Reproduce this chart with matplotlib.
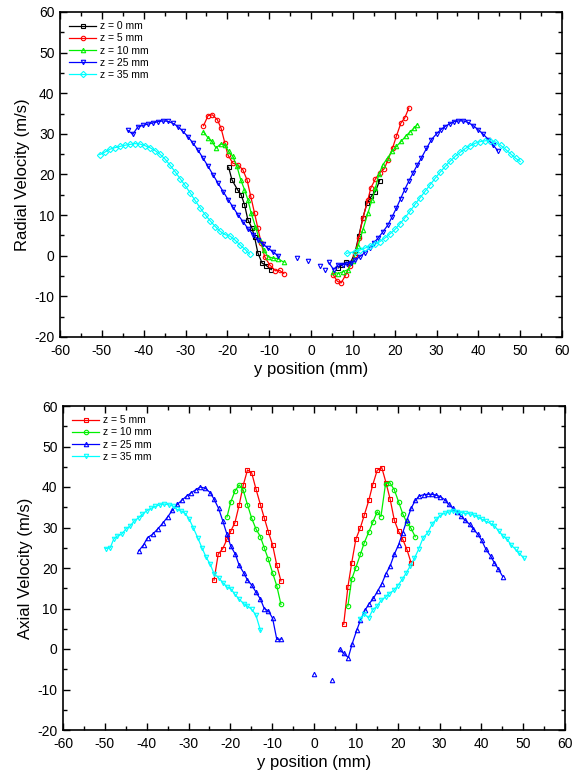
import numpy as np
import matplotlib
matplotlib.use("Agg")
import matplotlib.pyplot as plt
from matplotlib.ticker import MultipleLocator

plt.rcParams['font.family'] = ['Liberation Sans', 'DejaVu Sans']
plt.rcParams['axes.unicode_minus'] = False

# ---------------- Radial velocity (top) ----------------
r0_xL = [-19.7,-18.9,-17.6,-16.7,-15.9,-15.1,-14.1,-13.5,-12.7,-11.7,-10.7,-9.5]
r0_yL = [21.8,18.7,16.3,15.0,12.6,8.9,6.8,4.6,0.7,-1.8,-2.4,-3.4]
r0_xR = [6.5,7.5,8.4,9.4,10.5,11.4,12.4,13.4,14.4,15.4,16.4]
r0_yR = [-3.0,-2.2,-1.6,-1.8,0.7,4.8,9.3,13.0,14.6,15.8,18.5]

r5_xL = [-25.7,-24.6,-23.6,-22.4,-21.5,-20.6,-19.9,-18.7,-17.5,-16.3,-15.3,-14.4,-13.5,-12.7,-11.9,-11.1,-9.9,-8.5,-7.5,-6.5]
r5_yL = [32.0,34.5,34.7,33.5,31.4,27.8,24.9,22.8,22.4,21.2,18.7,14.6,10.5,6.8,3.1,-0.2,-2.2,-3.7,-3.6,-4.4]
r5_xR = [5.3,6.3,7.2,8.3,9.3,10.5,11.4,12.4,13.6,14.3,15.4,16.4,17.5,18.4,19.5,20.4,21.5,22.4,23.4]
r5_yR = [-4.7,-6.3,-6.7,-4.7,-2.6,0.2,4.3,9.3,13.8,16.7,18.9,20.4,21.4,23.6,26.5,29.4,32.7,33.9,36.4]

r10_xL = [-25.7,-24.6,-23.7,-22.7,-21.6,-20.6,-19.7,-18.7,-17.7,-16.8,-15.9,-15.1,-14.3,-13.3,-12.3,-11.3,-10.3,-9.1,-7.9,-6.5]
r10_yL = [30.5,29.0,28.2,26.5,27.5,27.3,25.7,24.5,22.0,18.7,16.3,13.8,10.5,7.2,3.9,1.5,-0.2,-0.6,-0.7,-1.6]
r10_xR = [5.3,6.5,7.7,8.9,10.0,11.2,12.4,13.6,14.6,15.4,16.2,17.2,18.3,19.4,20.4,21.6,22.6,23.6,24.6,25.4]
r10_yR = [-3.9,-4.4,-3.9,-3.4,-1.4,2.3,6.4,10.5,13.8,16.7,20.0,22.4,24.1,25.7,26.9,28.2,29.4,30.4,31.4,32.3]

r25_xL = [-43.8,-42.6,-41.4,-40.2,-39.0,-37.8,-36.6,-35.4,-34.2,-33.0,-31.8,-30.6,-29.4,-28.2,-27.0,-25.8,-24.6,-23.4,-22.2,-21.0,-19.8,-18.6,-17.4,-16.2,-15.0,-13.8,-12.6,-11.4,-10.2,-9.0,-7.8]
r25_yL = [30.9,29.9,31.7,32.1,32.4,32.7,33.0,33.2,33.1,32.6,31.8,30.6,29.3,27.7,26.0,24.0,22.0,19.9,17.8,15.8,13.8,11.9,10.0,8.3,6.6,5.2,3.9,2.8,1.8,0.9,-0.1]
r25_xC = [-3.3,-0.6,2.1,3.4]
r25_yC = [-0.6,-1.2,-2.6,-3.4]
r25_xR = [4.2,5.4,6.5,7.7,8.7,9.6,10.6,11.7,12.8,14.0,15.0,16.0,17.2,18.4,19.4,20.4,21.4,22.4,23.4,24.4,25.4,26.4,27.6,28.8,30.0,31.0,32.0,33.2,34.2,35.2,36.4,37.6,38.8,40.0,41.2,42.4,43.6,44.6]
r25_yR = [-1.6,-3.4,-2.2,-2.2,-2.0,-1.8,-1.0,-0.2,0.7,2.0,3.2,4.3,5.9,7.6,9.6,11.7,14.0,16.3,18.4,20.4,22.3,24.1,26.4,28.6,30.0,31.0,31.8,32.5,33.0,33.2,33.2,32.8,32.0,31.0,29.9,28.6,27.2,25.9]

r35_xL = [-50.5,-49.3,-48.1,-46.9,-45.7,-44.5,-43.3,-42.1,-40.9,-39.7,-38.5,-37.3,-36.1,-34.9,-33.7,-32.5,-31.3,-30.1,-28.9,-27.7,-26.5,-25.3,-24.1,-22.9,-21.7,-20.5,-19.3,-18.1,-16.9,-15.7,-14.7]
r35_yL = [24.9,25.5,26.2,26.6,26.9,27.2,27.4,27.6,27.5,27.1,26.6,25.9,25.0,23.8,22.3,20.7,19.0,17.3,15.5,13.6,11.8,10.1,8.6,7.2,6.0,5.2,4.8,3.8,2.6,1.5,0.4]
r35_xR = [8.5,10.5,11.7,12.9,14.1,15.3,16.5,17.7,18.9,20.1,21.3,22.5,23.7,24.9,26.1,27.3,28.5,29.7,30.9,32.1,33.3,34.5,35.7,36.9,38.1,39.3,40.5,41.7,42.9,44.1,45.3,46.5,47.7,48.9,50.0]
r35_yR = [0.6,1.0,1.4,1.9,2.3,2.8,3.5,4.4,5.4,6.5,7.9,9.4,11.0,12.7,14.3,15.9,17.5,19.1,20.6,22.0,23.3,24.5,25.5,26.4,27.1,27.7,28.1,28.3,28.3,28.0,27.2,26.2,25.1,24.0,23.2]

# ---------------- Axial velocity (bottom) ----------------
a5_xL = [-23.9,-22.9,-21.8,-20.8,-19.9,-18.9,-17.9,-16.9,-15.9,-14.9,-13.9,-12.8,-11.9,-10.9,-9.9,-8.9,-7.9]
a5_yL = [17.0,23.4,24.8,27.1,29.1,31.2,35.5,40.5,44.2,43.5,39.6,35.6,32.4,28.9,25.7,20.7,16.8]
a5_xR = [7.1,8.1,9.0,10.0,11.1,12.0,13.1,14.0,15.1,16.2,17.2,18.2,19.2,20.2,21.2,22.2,23.2]
a5_yR = [6.1,15.3,21.2,27.1,30.0,33.0,36.7,40.4,44.1,44.8,41.1,37.0,31.8,29.1,27.1,24.6,21.3]

a10_xL = [-20.8,-19.9,-18.9,-17.9,-16.9,-15.9,-14.9,-13.9,-12.8,-11.9,-10.9,-9.9,-8.9,-7.9]
a10_yL = [32.6,36.3,39.0,40.5,39.2,35.6,32.3,29.7,27.7,25.0,22.1,18.8,15.6,11.0]
a10_xR = [8.1,9.0,10.0,11.1,12.0,13.1,14.1,15.1,16.0,17.1,18.1,19.2,20.2,21.2,22.2,23.2,24.2]
a10_yR = [10.6,17.2,20.1,23.4,26.2,28.9,31.4,33.9,32.7,40.8,41.1,39.3,36.4,33.4,31.2,29.8,27.7]

a25_xL = [-41.9,-40.7,-39.8,-38.6,-37.4,-36.2,-35.0,-33.9,-32.7,-31.5,-30.4,-29.3,-28.3,-27.2,-26.0,-24.8,-23.9,-22.8,-21.8,-20.8,-19.9,-18.8,-17.9,-16.8,-15.9,-14.9,-13.9,-12.8,-11.9,-10.9,-9.9,-8.9,-7.9]
a25_yL = [24.2,25.8,27.5,28.3,29.6,31.0,32.6,34.2,35.7,36.8,37.8,38.6,39.3,40.0,39.7,38.6,37.0,34.7,31.6,28.3,25.4,23.4,20.7,18.8,17.0,15.8,14.1,12.3,10.0,9.4,7.6,2.4,2.4]
a25_xC = [0.1,4.2]
a25_yC = [-6.2,-7.7]
a25_xR = [6.1,7.1,8.2,9.1,10.2,11.1,12.2,13.2,14.2,15.2,16.2,17.2,18.2,19.2,20.2,21.2,22.2,23.2,24.2,25.2,26.2,27.2,28.2,29.2,30.2,31.2,32.2,33.2,34.2,35.2,36.1,37.2,38.1,39.2,40.1,41.1,42.2,43.1,44.1,45.1]
a25_yR = [-0.1,-1.1,-2.1,1.2,4.6,7.1,9.6,11.2,12.5,14.3,16.1,18.6,20.5,23.4,25.7,28.7,31.8,34.7,36.7,37.8,38.1,38.2,38.2,38.0,37.6,36.9,35.7,34.8,33.8,32.8,31.8,30.8,29.6,28.3,26.8,24.6,23.0,21.3,19.7,17.9]

a35_xL = [-49.8,-48.7,-47.9,-47.0,-46.0,-45.0,-43.9,-43.0,-41.9,-41.0,-40.0,-39.0,-38.0,-36.8,-35.8,-34.7,-33.8,-32.8,-31.8,-30.8,-29.8,-28.9,-27.8,-26.8,-25.8,-24.8,-23.9,-22.8,-21.8,-20.8,-19.9,-18.9,-17.9,-16.8,-15.9,-14.9,-13.9,-12.8]
a35_yL = [24.8,25.0,27.1,27.9,28.3,29.6,30.4,31.6,32.4,33.3,34.1,34.7,35.2,35.6,35.8,35.6,35.4,34.5,34.1,33.5,32.0,30.0,27.5,25.0,22.7,20.9,18.6,17.6,16.4,15.3,14.9,13.5,12.3,11.2,10.6,9.8,8.4,4.6]
a35_xR = [11.0,12.0,13.1,14.0,15.1,16.0,17.1,18.0,19.1,20.0,21.1,22.0,23.0,24.0,25.0,26.1,27.2,28.2,29.2,30.2,31.2,32.2,33.2,34.2,35.2,36.1,37.2,38.2,39.2,40.2,41.1,42.2,43.1,44.2,45.2,46.2,47.1,48.2,49.1,50.2]
a35_yR = [7.5,8.6,7.7,9.6,10.6,12.0,12.8,13.7,14.5,15.6,17.2,18.7,20.5,22.4,24.6,27.5,28.7,30.8,32.0,33.0,33.5,33.8,34.1,33.8,33.7,33.5,33.4,33.1,32.6,32.0,31.5,31.0,30.4,29.1,27.9,27.1,25.7,24.6,23.6,22.4]

x_ticks = [-60,-50,-40,-30,-20,-10,0,10,20,30,40,50,60]
y_ticks = [-20,-10,0,10,20,30,40,50,60]


def join(*segs):
    xs, ys = [], []
    for i, (sx, sy) in enumerate(segs):
        if i:
            xs.append(np.nan); ys.append(np.nan)
        xs += list(sx); ys += list(sy)
    return np.array(xs), np.array(ys)


W, H = 581, 775
fig = plt.figure(figsize=(W / 100, H / 100), dpi=100)
ax1 = fig.add_axes([60 / W, 1 - 337 / H, 502 / W, 325 / H])
ax2 = fig.add_axes([63 / W, 1 - 730 / H, 502 / W, 324 / H])

lw = 0.9
ms = 3.2
mew = 0.8


def series(ax, xs, ys, color, marker, label, extra=None):
    ax.plot(xs, ys, color=color, lw=lw, marker=marker, ms=ms, mfc='none',
            mec=color, mew=mew, label=label)
    if extra is not None:
        ex, ey = extra
        ax.plot(ex, ey, color=color, lw=lw, marker=marker, ms=ms, mfc='none',
                mec=color, mew=mew, ls='none')


GREEN = '#00F000'

# top
x, y = join((r0_xL, r0_yL), (r0_xR, r0_yR))
series(ax1, x, y, 'black', 's', 'z = 0 mm')
x, y = join((r5_xL, r5_yL), (r5_xR, r5_yR))
series(ax1, x, y, '#FF0000', 'o', 'z = 5 mm')
x, y = join((r10_xL, r10_yL), (r10_xR, r10_yR))
series(ax1, x, y, GREEN, '^', 'z = 10 mm')
x, y = join((r25_xL, r25_yL), (r25_xR, r25_yR))
series(ax1, x, y, '#0000FF', 'v', 'z = 25 mm', extra=(r25_xC, r25_yC))
x, y = join((r35_xL, r35_yL), (r35_xR, r35_yR))
series(ax1, x, y, '#00FFFF', 'D', 'z = 35 mm')

# bottom
x, y = join((a5_xL, a5_yL), (a5_xR, a5_yR))
series(ax2, x, y, '#FF0000', 's', 'z = 5 mm')
x, y = join((a10_xL, a10_yL), (a10_xR, a10_yR))
series(ax2, x, y, GREEN, 'o', 'z = 10 mm')
x, y = join((a25_xL, a25_yL), (a25_xR, a25_yR))
series(ax2, x, y, '#0000FF', '^', 'z = 25 mm', extra=(a25_xC, a25_yC))
x, y = join((a35_xL, a35_yL), (a35_xR, a35_yR))
series(ax2, x, y, '#00FFFF', 'v', 'z = 35 mm')

for ax, ylabel in ((ax1, 'Radial Velocity (m/s)'), (ax2, 'Axial Velocity (m/s)')):
    ax.set_xlim(-60, 60)
    ax.set_ylim(-20, 60)
    ax.set_xticks(x_ticks)
    ax.set_yticks(y_ticks)
    ax.set_xticklabels([str(v) for v in x_ticks])
    ax.set_yticklabels([str(v) for v in y_ticks])
    ax.xaxis.set_minor_locator(MultipleLocator(5))
    ax.yaxis.set_minor_locator(MultipleLocator(5))
    ax.tick_params(which='both', direction='in', top=True, right=True,
                   labelsize=10, width=1.0)
    ax.tick_params(axis='x', which='major', pad=5)
    ax.tick_params(axis='y', which='major', pad=4)
    ax.tick_params(which='major', length=5)
    ax.tick_params(which='minor', length=3)
    for s in ax.spines.values():
        s.set_linewidth(1.2)
    ax.set_xlabel('y position (mm)', fontsize=12, labelpad=3)
    ax.set_ylabel(ylabel, fontsize=12, labelpad=3)
    ax.legend(loc='upper left', frameon=False, fontsize=7.5, handlelength=2.6,
              handletextpad=0.3, labelspacing=0.2, borderaxespad=0.6,
              borderpad=0.3)

fig.savefig('out.png', dpi=100)
